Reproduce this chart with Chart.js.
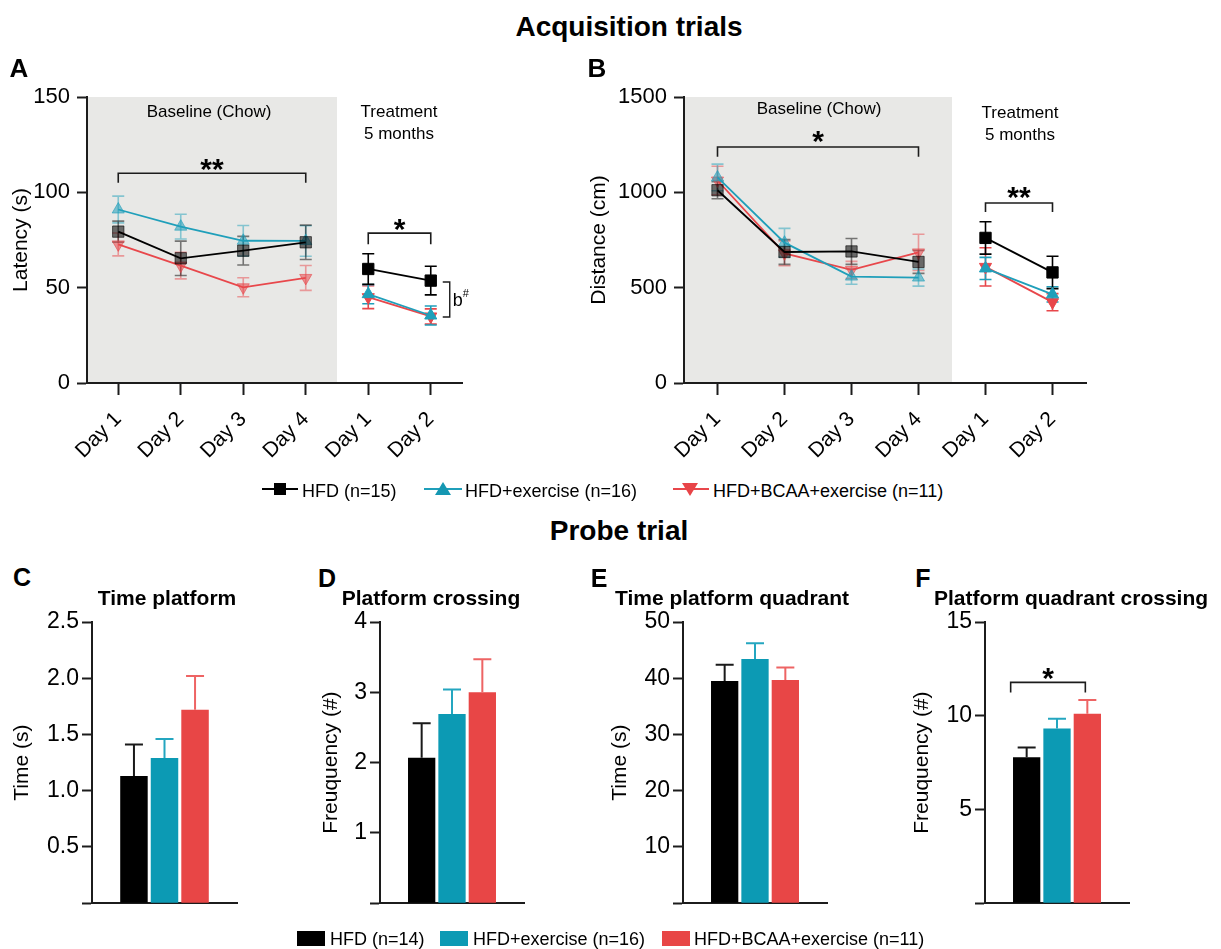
<!DOCTYPE html>
<html><head><meta charset="utf-8">
<script src="https://cdn.jsdelivr.net/npm/chart.js@4.4.1/dist/chart.umd.min.js"></script>
<style>
html,body{margin:0;padding:0;background:#fff}
body{width:1221px;height:949px;position:relative;overflow:hidden;font-family:"Liberation Sans",Arial,Helvetica,sans-serif;color:#000}
canvas{position:absolute;z-index:1}
.t{position:absolute;white-space:nowrap;line-height:1;transform:translate(-50%,-50%);z-index:3}
.l{position:absolute;white-space:nowrap;line-height:1;transform:translateY(-50%);font-size:18px;z-index:3}
.b{font-weight:bold}
svg{position:absolute;overflow:visible;z-index:3}
</style></head><body>

<div class="t b" style="left:629px;top:27px;font-size:28px">Acquisition trials</div>
<div class="t b" style="left:619px;top:531px;font-size:28px">Probe trial</div>

<div class="t b" style="left:19px;top:68px;font-size:26px">A</div>
<div class="t b" style="left:597px;top:68px;font-size:26px">B</div>
<div class="t b" style="left:22px;top:577px;font-size:25px">C</div>
<div class="t b" style="left:327px;top:578px;font-size:25px">D</div>
<div class="t b" style="left:599px;top:578px;font-size:25px">E</div>
<div class="t b" style="left:923px;top:578px;font-size:25px">F</div>

<div class="t" style="left:209px;top:111px;font-size:17px">Baseline (Chow)</div>
<div class="t" style="left:399px;top:111px;font-size:17px">Treatment</div>
<div class="t" style="left:399px;top:133px;font-size:17px">5 months</div>
<div class="t" style="left:819px;top:108px;font-size:17px">Baseline (Chow)</div>
<div class="t" style="left:1020px;top:112px;font-size:17px">Treatment</div>
<div class="t" style="left:1020px;top:134px;font-size:17px">5 months</div>

<div class="t b" style="left:167px;top:597px;font-size:21px">Time platform</div>
<div class="t b" style="left:431px;top:597px;font-size:21px">Platform crossing</div>
<div class="t b" style="left:732px;top:597px;font-size:21px">Time platform quadrant</div>
<div class="t b" style="left:1071px;top:597px;font-size:21px">Platform quadrant crossing</div>

<canvas id="cA" width="475" height="400" style="left:0px;top:75px"></canvas>
<canvas id="cB" width="515" height="400" style="left:585px;top:75px"></canvas>
<canvas id="cC" width="250" height="317" style="left:0px;top:603px"></canvas>
<canvas id="cD" width="240" height="317" style="left:300px;top:603px"></canvas>
<canvas id="cE" width="240" height="317" style="left:600px;top:603px"></canvas>
<canvas id="cF" width="240" height="317" style="left:900px;top:603px"></canvas>

<svg width="1" height="1" style="left:0;top:0">
  <line x1="262" y1="489" x2="298" y2="489" stroke="#000" stroke-width="2"/>
  <rect x="274" y="483" width="12" height="12" fill="#000"/>
  <line x1="424" y1="489" x2="462" y2="489" stroke="#1f9fba" stroke-width="2"/>
  <polygon points="443,482 451,495 435,495" fill="#1597b2"/>
  <line x1="673" y1="489" x2="709" y2="489" stroke="#e8474b" stroke-width="2"/>
  <polygon points="690,496 698,483 682,483" fill="#e84448"/>
  <rect x="297" y="931" width="28" height="15" fill="#000"/>
  <rect x="440" y="931" width="28" height="15" fill="#0c9ab4"/>
  <rect x="662" y="931" width="28" height="15" fill="#e84646"/>
</svg>
<div class="l" id="lg1" style="left:302px;top:491px"></div>
<div class="l" id="lg2" style="left:465px;top:491px"></div>
<div class="l" id="lg3" style="left:713px;top:491px"></div>
<div class="l" id="lb1" style="left:330px;top:939px"></div>
<div class="l" id="lb2" style="left:473px;top:939px"></div>
<div class="l" id="lb3" style="left:694px;top:939px"></div>

<script>
// ---------------- DATA ----------------
const days = ['Day 1', 'Day 2', 'Day 3', 'Day 4', 'Day 1', 'Day 2'];
const groupsAcq = ['HFD (n=15)', 'HFD+exercise (n=16)', 'HFD+BCAA+exercise (n=11)'];
const groupsProbe = ['HFD (n=14)', 'HFD+exercise (n=16)', 'HFD+BCAA+exercise (n=11)'];

// A: latency (s), mean and SEM
const latencyHFD = [79.4, 65.4, 69.4, 73.8, 59.8, 53.7];
const latencyHFDErr = [5.5, 9, 7.5, 9, 8, 7.5];
const latencyEx = [91, 82, 74.6, 74.5, 46.6, 35.4];
const latencyExErr = [7, 6.5, 8, 8, 5, 5];
const latencyBCAA = [72.7, 61.6, 50.2, 55.1, 45, 34.9];
const latencyBCAAErr = [6, 7, 5, 6.5, 6, 4];

// B: distance (cm)
const distHFD = [1011, 687, 690, 635, 761, 580];
const distHFDErr = [45, 65, 68, 60, 85, 85];
const distEx = [1078, 736, 558, 553, 601, 465];
const distExErr = [70, 75, 40, 45, 58, 40];
const distBCAA = [1062, 680, 593, 685, 609, 424];
const distBCAAErr = [75, 65, 45, 95, 100, 45];

// C-F: probe trial
const timePlatform = [1.13, 1.29, 1.72];
const timePlatformErr = [0.28, 0.17, 0.30];
const platformCrossing = [2.07, 2.69, 3.0];
const platformCrossingErr = [0.49, 0.35, 0.47];
const timeQuadrant = [39.5, 43.4, 39.7];
const timeQuadrantErr = [2.9, 2.8, 2.2];
const quadrantCrossing = [7.78, 9.32, 10.1];
const quadrantCrossingErr = [0.53, 0.52, 0.74];

// ---------------- STYLE ----------------
const BLACK = '#000000', CYAN_LINE = '#1f9fba', RED_LINE = '#e8474b';
const CYAN_BAR = '#0c9ab4', RED_BAR = '#e84646';
const AXIS = '#1c1c1c';
const BAND = '#e8e8e6';
const FF = '"Liberation Sans", Arial, Helvetica, sans-serif';

Chart.defaults.font.family = FF;
Chart.defaults.color = '#000';
Chart.defaults.animation = false;

['lg1','lg2','lg3'].forEach((id,i)=>document.getElementById(id).textContent = groupsAcq[i]);
['lb1','lb2','lb3'].forEach((id,i)=>document.getElementById(id).textContent = groupsProbe[i]);

function rgba(hex, a) {
  const n = parseInt(hex.slice(1), 16);
  return `rgba(${n >> 16},${(n >> 8) & 255},${n & 255},${a})`;
}

function geom(box, plot) {
  return {
    padding: { left: 0, top: plot.top - box.top, right: box.left + box.width - plot.right, bottom: 0 },
    yW: plot.left - box.left,
    xH: box.top + box.height - plot.bottom
  };
}

function errorBars(opts) {
  return {
    id: 'errorBars',
    [opts.after ? 'afterDatasetsDraw' : 'beforeDatasetsDraw'](chart) {
      const ctx = chart.ctx, y = chart.scales.y;
      for (let i = chart.data.datasets.length - 1; i >= 0; i--) {
        const ds = chart.data.datasets[i];
        const meta = chart.getDatasetMeta(i);
        ds.data.forEach((v, j) => {
          const e = ds.errors[j];
          const x = meta.data[j].x;
          const top = y.getPixelForValue(v + e);
          const bot = opts.upOnly ? y.getPixelForValue(v) : y.getPixelForValue(v - e);
          ctx.save();
          ctx.strokeStyle = j < opts.fadeBefore ? rgba(ds.errColor, 0.5) : ds.errColor;
          ctx.lineWidth = opts.lw;
          ctx.beginPath();
          ctx.moveTo(x, top); ctx.lineTo(x, bot);
          ctx.moveTo(x - opts.cap / 2, top); ctx.lineTo(x + opts.cap / 2, top);
          if (!opts.upOnly) { ctx.moveTo(x - opts.cap / 2, bot); ctx.lineTo(x + opts.cap / 2, bot); }
          ctx.stroke();
          ctx.restore();
        });
      }
    }
  };
}

function bracket(ctx, x1, x2, yTop, yDrop1, yDrop2) {
  ctx.save();
  ctx.strokeStyle = AXIS; ctx.lineWidth = 1.6;
  ctx.beginPath();
  ctx.moveTo(x1, yDrop1); ctx.lineTo(x1, yTop); ctx.lineTo(x2, yTop); ctx.lineTo(x2, yDrop2);
  ctx.stroke();
  ctx.restore();
}
function stars(ctx, text, cx, cy, size) {
  ctx.save();
  ctx.fillStyle = '#000';
  ctx.font = `bold ${size}px ${FF}`;
  ctx.textAlign = 'center';
  ctx.textBaseline = 'alphabetic';
  ctx.fillText(text, cx, cy + 0.57 * size);
  ctx.restore();
}

const baselineBand = {
  id: 'band',
  beforeDraw(chart) {
    const { ctx, chartArea: a, scales: { x } } = chart;
    const xr = (x.getPixelForValue(3) + x.getPixelForValue(4)) / 2;
    ctx.save();
    ctx.fillStyle = BAND;
    ctx.fillRect(a.left, a.top, xr - a.left, a.bottom - a.top);
    ctx.restore();
  }
};

function lineDs(label, data, errors, color, style, rot, radius) {
  return {
    label, data, errors, errColor: color,
    borderColor: color, borderWidth: 1.8, tension: 0,
    pointStyle: style, pointRotation: rot, pointRadius: radius, pointHoverRadius: radius,
    pointBackgroundColor: data.map((v, i) => i < 4 ? rgba(color, 0.55) : color),
    pointBorderColor: data.map((v, i) => i < 4 ? rgba(color, 0.6) : color),
    pointBorderWidth: 1,
    segment: { borderColor: c => c.p0DataIndex === 3 ? 'rgba(0,0,0,0)' : undefined }
  };
}

function yAxis(g, min, max, step, title, tickSize, titlePad, fmt, tickPad) {
  return {
    min, max,
    ticks: { stepSize: step, font: { size: tickSize }, color: '#000', padding: tickPad, callback: fmt },
    grid: { drawOnChartArea: false, drawTicks: true, tickLength: 10, tickColor: AXIS, tickWidth: 2 },
    border: { display: true, color: AXIS, width: 2 },
    title: { display: true, text: title, font: { size: 21 }, color: '#000', padding: { top: titlePad, bottom: 0 } },
    afterFit: s => { s.width = g.yW; }
  };
}

function lineChart(id, box, plot, sets, ymax, ystep, ytitle, titlePad, extra) {
  const g = geom(box, plot);
  return new Chart(document.getElementById(id), {
    type: 'line',
    data: { labels: days, datasets: sets },
    options: {
      responsive: false, devicePixelRatio: 1,
      layout: { padding: g.padding },
      plugins: { legend: { display: false }, tooltip: { enabled: false } },
      scales: {
        x: {
          offset: true,
          grid: { display: true, offset: false, drawOnChartArea: false, drawTicks: true, tickLength: 12, tickColor: AXIS, tickWidth: 2 },
          border: { display: true, color: AXIS, width: 2 },
          ticks: { autoSkip: false, minRotation: 45, maxRotation: 45, font: { size: 21 }, color: '#000', padding: 12 },
          afterFit: s => { s.height = g.xH; }
        },
        y: yAxis(g, 0, ymax, ystep, ytitle, 22, titlePad, v => v, 7)
      }
    },
    plugins: [baselineBand, errorBars({ fadeBefore: 4, cap: 12, lw: 1.6, upOnly: false }), { id: 'ann', afterDatasetsDraw: extra }]
  });
}

// ---- A ----
lineChart('cA', { left: 0, top: 75, width: 475, height: 400 }, { left: 87, right: 462, top: 97, bottom: 383 },
  [lineDs(groupsAcq[0], latencyHFD, latencyHFDErr, BLACK, 'rect', 0, 8),
   lineDs(groupsAcq[1], latencyEx, latencyExErr, CYAN_LINE, 'triangle', 0, 7),
   lineDs(groupsAcq[2], latencyBCAA, latencyBCAAErr, RED_LINE, 'triangle', 180, 7)],
  150, 50, 'Latency (s)', 9,
  chart => {
    const { ctx, scales: { x, y } } = chart;
    const x0 = x.getPixelForValue(0), x3 = x.getPixelForValue(3), x4 = x.getPixelForValue(4), x5 = x.getPixelForValue(5);
    bracket(ctx, x0, x3, y.getPixelForValue(110), y.getPixelForValue(105), y.getPixelForValue(105));
    stars(ctx, '**', (x0 + x3) / 2, y.getPixelForValue(110) - 11, 30);
    bracket(ctx, x4, x5, y.getPixelForValue(78.6), y.getPixelForValue(72.8), y.getPixelForValue(72.8));
    stars(ctx, '*', (x4 + x5) / 2, y.getPixelForValue(78.6) - 11, 30);
    const bx = x5 + 19, yt = y.getPixelForValue(53), yb = y.getPixelForValue(34.6);
    ctx.save();
    ctx.strokeStyle = AXIS; ctx.lineWidth = 1.4;
    ctx.beginPath();
    ctx.moveTo(bx - 7, yt); ctx.lineTo(bx, yt); ctx.lineTo(bx, yb); ctx.lineTo(bx - 7, yb);
    ctx.stroke();
    ctx.fillStyle = '#000';
    ctx.textBaseline = 'alphabetic'; ctx.textAlign = 'left';
    ctx.font = `18px ${FF}`;
    ctx.fillText('b', bx + 3, (yt + yb) / 2 + 7);
    ctx.font = `11px ${FF}`;
    ctx.fillText('#', bx + 13, (yt + yb) / 2 - 2);
    ctx.restore();
  });

// ---- B ----
lineChart('cB', { left: 585, top: 75, width: 515, height: 400 }, { left: 684, right: 1086, top: 97, bottom: 383 },
  [lineDs(groupsAcq[0], distHFD, distHFDErr, BLACK, 'rect', 0, 8),
   lineDs(groupsAcq[1], distEx, distExErr, CYAN_LINE, 'triangle', 0, 7),
   lineDs(groupsAcq[2], distBCAA, distBCAAErr, RED_LINE, 'triangle', 180, 7)],
  1500, 500, 'Distance (cm)', 2,
  chart => {
    const { ctx, scales: { x, y } } = chart;
    const x0 = x.getPixelForValue(0), x3 = x.getPixelForValue(3), x4 = x.getPixelForValue(4), x5 = x.getPixelForValue(5);
    bracket(ctx, x0, x3, y.getPixelForValue(1238), y.getPixelForValue(1186), y.getPixelForValue(1186));
    stars(ctx, '*', (x0 + x3) / 2, y.getPixelForValue(1238) - 13, 30);
    bracket(ctx, x4, x5, y.getPixelForValue(944), y.getPixelForValue(897), y.getPixelForValue(897));
    stars(ctx, '**', (x4 + x5) / 2, y.getPixelForValue(944) - 13, 30);
  });

// ---- bar charts ----
const barColors = [BLACK, CYAN_BAR, RED_BAR];
const errColors = ['#1a1a1a', '#24a6c0', '#ee6464'];

function barChart(id, box, plot, vals, errs, ymax, ystep, ytitle, titlePad, fmt, extra) {
  const g = geom(box, plot);
  return new Chart(document.getElementById(id), {
    type: 'bar',
    data: {
      labels: [''],
      datasets: groupsProbe.map((lab, i) => ({
        label: lab, data: [vals[i]], errors: [errs[i]], errColor: errColors[i],
        backgroundColor: barColors[i], borderWidth: 0,
        categoryPercentage: 0.632, barPercentage: 0.9
      }))
    },
    options: {
      responsive: false, devicePixelRatio: 1,
      layout: { padding: g.padding },
      plugins: { legend: { display: false }, tooltip: { enabled: false } },
      scales: {
        x: {
          grid: { display: false },
          ticks: { display: false },
          border: { display: true, color: AXIS, width: 2 },
          afterFit: s => { s.height = g.xH; }
        },
        y: yAxis(g, 0, ymax, ystep, ytitle, 23, titlePad, fmt, 3)
      }
    },
    plugins: [errorBars({ fadeBefore: 0, cap: 18, lw: 2, upOnly: true, after: true }),
      { id: 'ann', afterDatasetsDraw: extra || (() => {}) }]
  });
}

const bp = (l) => ({ left: l, top: 603, width: 240, height: 317 });

barChart('cC', { left: 0, top: 603, width: 250, height: 317 }, { left: 92, right: 237, top: 622, bottom: 909 },
  timePlatform, timePlatformErr, 2.5, 0.5, 'Time (s)', 10, v => v === 0 ? '' : v.toFixed(1));
barChart('cD', bp(300), { left: 380, right: 524, top: 622, bottom: 909 },
  platformCrossing, platformCrossingErr, 4, 1, 'Freuquency (#)', 19, v => v === 0 ? '' : v);
barChart('cE', bp(600), { left: 683, right: 827, top: 622, bottom: 909 },
  timeQuadrant, timeQuadrantErr, 50, 10, 'Time (s)', 8, v => v === 0 ? '' : v);
barChart('cF', bp(900), { left: 985, right: 1129, top: 622, bottom: 909 },
  quadrantCrossing, quadrantCrossingErr, 15, 5, 'Freuquency (#)', 10, v => v === 0 ? '' : v,
  chart => {
    const { ctx, scales: { y } } = chart;
    const b0 = chart.getDatasetMeta(0).data[0], b2 = chart.getDatasetMeta(2).data[0];
    const x1 = b0.x - 16, x2 = b2.x - 2;
    const yt = y.getPixelForValue(11.78), yd = y.getPixelForValue(11.24);
    bracket(ctx, x1, x2, yt, yd, yd);
    stars(ctx, '*', (x1 + x2) / 2, yt - 11, 30);
  });
</script>
</body></html>
